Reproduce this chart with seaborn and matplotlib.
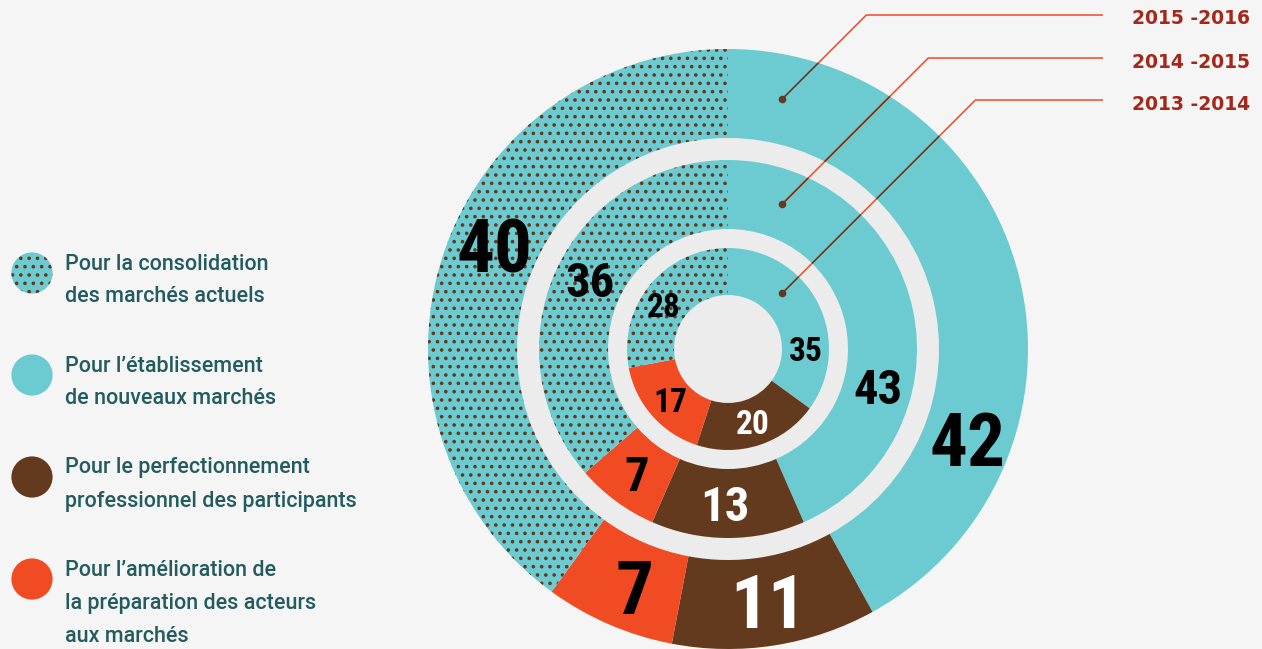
import numpy as np
import seaborn as sns
from matplotlib import pyplot as plt, font_manager as fm
from matplotlib.patches import Circle

# === DATA ===

# slices, clockwise from the top
categories = ['etablissement', 'perfectionnement', 'amelioration', 'consolidation']
years = ['2015 -2016', '2014 -2015', '2013 -2014']
values_2015_2016 = [42, 11, 7, 40]
values_2014_2015 = [43, 13, 7, 36]
values_2013_2014 = [35, 20, 17, 28]

legend_order = ['consolidation', 'etablissement', 'perfectionnement', 'amelioration']
legend_labels = [
    ['Pour la consolidation', 'des marchés actuels'],
    ['Pour l’établissement', 'de nouveaux marchés'],
    ['Pour le perfectionnement', 'professionnel des participants'],
    ['Pour l’amélioration de', 'la préparation des acteurs', 'aux marchés'],
]

# === STYLE ===

W, H = 1262, 649
BG = '#f4f5f4'
GAP = '#ececec'
CYAN = '#6ccbd1'
BROWN = '#633a1e'
ORANGE = '#f04b23'
RED_TXT = '#a3281a'
TEAL_TXT = '#235b5f'
colors = {'etablissement': CYAN, 'perfectionnement': BROWN,
          'amelioration': ORANGE, 'consolidation': CYAN}
num_color = {'etablissement': 'black', 'perfectionnement': 'white',
             'amelioration': 'black', 'consolidation': 'black'}
# angular nudge of the value labels (degrees), one per ring, outer first
label_shift = {'etablissement': [35, 26, 27], 'perfectionnement': [0, 1, -1],
               'amelioration': [-2, 0, 0], 'consolidation': [6, 2, -5]}

CX, CY = 728, 349
# (outer radius, inner radius, label size) per ring, outer first
rings = [(300, 211, 54), (189, 120, 35), (101, 54, 24)]
elbow_y = [15, 58, 100]
LINE_END = 1103
DOT_DX = 54

sns.set_theme(style='white', rc={'figure.facecolor': BG, 'axes.facecolor': BG,
                                 'hatch.color': BROWN, 'hatch.linewidth': 1.4})
plt.rcParams['font.family'] = ['Roboto', 'DejaVu Sans']


# === FUNC ===

def narrow_font():
    # narrowest bold face we can find, for the big numbers
    files = [f.fname for f in fm.fontManager.ttflist]
    for key in ['RobotoCondensed-Bold', 'LiberationSansNarrow-Bold',
                'DejaVuSansCondensed-Bold', 'RobotoCondensed']:
        for f in files:
            if key in f:
                return fm.FontProperties(fname=f)
    return fm.FontProperties(family='DejaVu Sans', weight='bold')


def fy(y):
    # pixel row (from top) -> data y (from bottom)
    return H - y


def polar(theta, r):
    t = np.radians(theta)
    return CX + r * np.sin(t), fy(CY) + r * np.cos(t)


# === CODE ===

num_font = narrow_font()

fig = plt.figure(figsize=(W / 100, H / 100), dpi=100)
ax = fig.add_axes([0, 0, 1, 1])

ax.add_patch(Circle((CX, fy(CY)), rings[1][0] + 22, color=GAP, lw=0, zorder=0))

cyan_wedges = []
all_values = [values_2015_2016, values_2014_2015, values_2013_2014]
for ring, (vals, (r_out, r_in, fs)) in enumerate(zip(all_values, rings)):
    wedges, _ = ax.pie(vals, colors=[colors[c] for c in categories],
                       startangle=90, counterclock=False, radius=r_out,
                       center=(CX, fy(CY)),
                       wedgeprops=dict(width=r_out - r_in, linewidth=0))
    for w, c in zip(wedges, categories):
        w.set_zorder(2)
        if c == 'consolidation':
            w.set_hatch('..')
            w.set_edgecolor(BROWN)
            w.set_linewidth(0)
        if c == 'etablissement':
            cyan_wedges.append(w)

    # value labels
    total = sum(vals)
    start = 0
    r_mid = (r_out + r_in) / 2
    fs_px = fs * 100 / 72
    for v, c in zip(vals, categories):
        span = v / total * 360
        theta = start + span / 2 + label_shift[c][ring]
        x, y = polar(theta, r_mid)
        ax.text(x, y - 0.36 * fs_px, str(v), ha='center', va='baseline',
                fontproperties=num_font, fontsize=fs, color=num_color[c],
                zorder=6)
        start += span

# leader lines to the year labels
dot_x, dot_y = [], []
for (r_out, r_in, _), ey, year in zip(rings, elbow_y, years):
    r_mid = (r_out + r_in) / 2
    dy = np.sqrt(r_mid ** 2 - DOT_DX ** 2)
    x0, y0 = CX + DOT_DX, CY - dy
    x1 = x0 + (y0 - ey)
    xs, ys = [x0, x1, LINE_END], [fy(y0), fy(ey), fy(ey)]
    ax.plot(xs, ys, color=ORANGE, lw=1.1, zorder=4, solid_capstyle='butt')
    for w in cyan_wedges:
        ln, = ax.plot(xs, ys, color=BROWN, lw=1.1, zorder=4.5)
        ln.set_clip_path(w)
    dot_x.append(x0)
    dot_y.append(fy(y0))
    ax.text(1250, fy(ey + 4), year, ha='right', va='center', fontsize=13.5,
            fontweight='bold', color=RED_TXT, family='DejaVu Sans')

sns.scatterplot(x=dot_x, y=dot_y, color=BROWN, s=30, linewidth=0,
                ax=ax, zorder=7, legend=False)

# legend
item_top = [264, 366, 468, 570]
pitch = 33
leg_x = [32] * len(legend_order)
leg_y = [fy(t + 9) for t in item_top]
plain = [i for i, c in enumerate(legend_order) if c != 'consolidation']
sns.scatterplot(x=[leg_x[i] for i in plain], y=[leg_y[i] for i in plain],
                hue=[legend_order[i] for i in plain],
                palette={c: colors[c] for c in legend_order},
                s=880, linewidth=0, ax=ax, legend=False, zorder=3)
hat = legend_order.index('consolidation')
ax.scatter([leg_x[hat]], [leg_y[hat]], s=880, color=CYAN, edgecolor=BROWN,
           linewidth=0, hatch='..', zorder=3)
for top, lines in zip(item_top, legend_labels):
    for k, line in enumerate(lines):
        ax.text(65, fy(top + k * pitch), line, ha='left', va='center',
                fontsize=15.5, color=TEAL_TXT, fontweight='medium')

ax.set_xlim(0, W)
ax.set_ylim(0, H)
ax.set_aspect('equal')
ax.axis('off')

fig.savefig('out.png', dpi=100, facecolor=BG)
